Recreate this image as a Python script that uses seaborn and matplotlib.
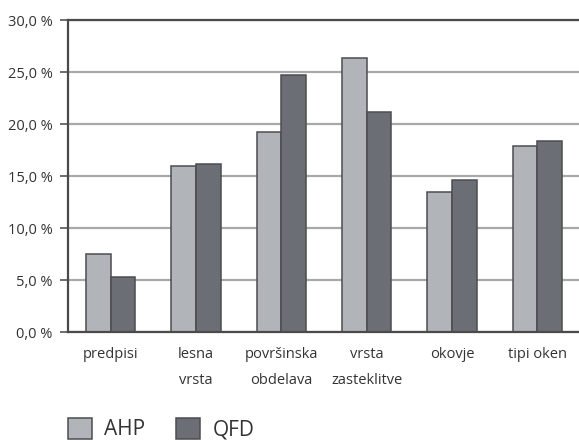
import matplotlib
matplotlib.use("Agg")
import matplotlib.pyplot as plt
from matplotlib.patches import Patch
from matplotlib.ticker import FuncFormatter, FixedLocator
import pandas as pd
import seaborn as sns

# Deleži kriterijev po metodah AHP in QFD (v %)
kriteriji = ["predpisi", "lesna\nvrsta", "površinska\nobdelava",
             "vrsta\nzasteklitve", "okovje", "tipi oken"]
ahp = [7.5, 16.0, 19.2, 26.3, 13.5, 17.9]
qfd = [5.3, 16.2, 24.7, 21.2, 14.6, 18.4]
metode = ["AHP", "QFD"]
y_ticks = [0, 5, 10, 15, 20, 25, 30]

barve = ["#b1b4b9", "#6b6e74"]
rob = "#4c4d50"
besedilo = "#333333"

df = pd.DataFrame({
    "kriterij": kriteriji * 2,
    "delez": ahp + qfd,
    "metoda": [metode[0]] * len(kriteriji) + [metode[1]] * len(kriteriji),
})

sns.set_style("white")
plt.rcParams["font.family"] = ["Open Sans", "DejaVu Sans"]

fig = plt.figure(figsize=(5.79, 4.41), dpi=100)
W, H = 579, 441
ax = fig.add_axes([68 / W, (H - 332) / H, (580 - 68) / W, (332 - 20) / H])

sns.barplot(data=df, x="kriterij", y="delez", hue="metoda", palette=barve,
            width=0.575, edgecolor=rob, linewidth=1.1, saturation=1,
            legend=False, ax=ax)

ax.set_ylim(0, 30)
ax.set_xlim(-0.5, len(kriteriji) - 0.5)
ax.yaxis.set_major_locator(FixedLocator(y_ticks))
ax.yaxis.set_major_formatter(FuncFormatter(lambda v, _: f"{v:.1f}".replace(".", ",") + " %"))
ax.yaxis.grid(True, color="#a9a9a9", linewidth=1.6)
ax.set_axisbelow(True)

ax.set_xlabel("")
ax.set_ylabel("")
ax.tick_params(axis="x", which="major", length=0, pad=11, labelsize=10.5,
               labelcolor=besedilo)
ax.set_xticks([i + 0.5 for i in range(len(kriteriji) - 1)], minor=True)
ax.tick_params(axis="x", which="minor", length=5, width=1.2, color="#555555",
               direction="out")
ax.tick_params(axis="y", length=6, width=1.2, color="#555555", pad=5,
               labelsize=10.5, labelcolor=besedilo, left=True)
for lbl in ax.get_xticklabels():
    lbl.set_linespacing(2.0)
    lbl.set_verticalalignment("top")

for side in ["top", "left", "bottom"]:
    ax.spines[side].set_visible(True)
    ax.spines[side].set_color("#4a4a4a")
    ax.spines[side].set_linewidth(1.6)
ax.spines["right"].set_visible(False)

handles = [Patch(facecolor=barve[i], edgecolor=rob, linewidth=1.1) for i in range(2)]
fig.legend(handles, metode, loc="upper left",
           bbox_to_anchor=(68 / W, 1 - 418 / H), ncol=2, frameon=False,
           fontsize=15, borderpad=0, borderaxespad=0, handlelength=1.15,
           handleheight=1.15, handletextpad=0.6, columnspacing=1.45,
           labelcolor=besedilo)

fig.savefig("out.png", dpi=100)
